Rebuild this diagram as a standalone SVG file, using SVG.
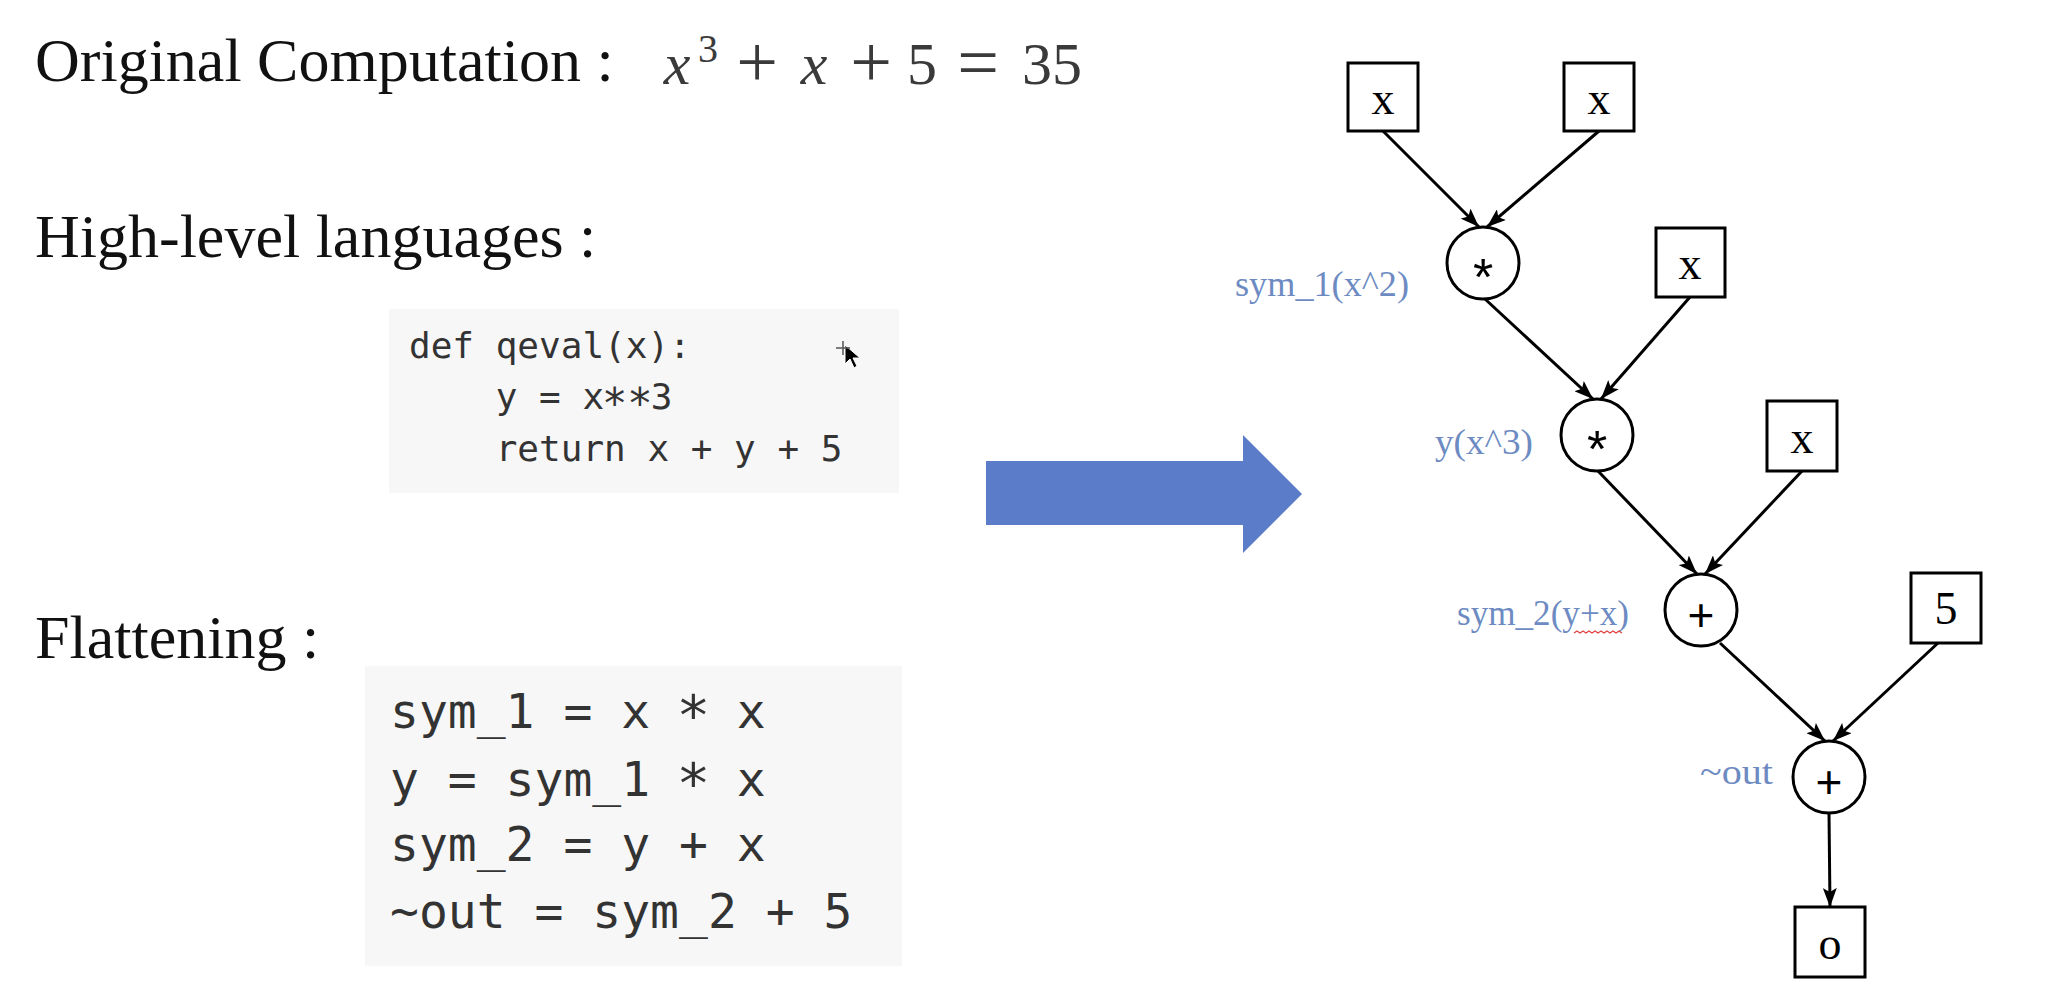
<svg xmlns="http://www.w3.org/2000/svg" width="2056" height="994" viewBox="0 0 2056 994">
<defs>
<style>
.head{font-family:"Liberation Serif",serif;font-size:62px;fill:#111}
.math{font-family:"Liberation Serif",serif;font-size:60px;fill:#3a3a3a;text-anchor:middle}
.big{font-size:74px}
.code{font-family:"DejaVu Sans Mono",monospace;fill:#333}
.codebg{fill:#f7f7f7}
.lbl{font-family:"Liberation Serif",serif;font-size:35px;fill:#6d8bc2}
.node rect,.node circle{fill:#fff;stroke:#000;stroke-width:3}
.nt{font-family:"Liberation Serif",serif;font-size:46px;text-anchor:middle;fill:#000}
.op{font-family:"Liberation Sans",sans-serif;text-anchor:middle;fill:#000}
.edge{stroke:#000;stroke-width:3;fill:none;marker-end:url(#ah)}
</style>
<marker id="ah" markerWidth="19" markerHeight="14" refX="19" refY="7" orient="auto" markerUnits="userSpaceOnUse">
<path d="M0,0 L19,7 L0,14 L4,7 z" fill="#000"/>
</marker>
</defs>
<rect width="2056" height="994" fill="#fff"/>

<g id="headings">
<text class="head" x="35" y="81">Original Computation :</text>
<text class="head" x="35" y="257">High-level languages :</text>
<text class="head" x="35" y="658">Flattening :</text>
</g>

<g id="formula">
<text class="math" y="84"><tspan x="677" font-style="italic">x</tspan><tspan x="708" y="62" font-size="40">3</tspan><tspan x="757" y="87" class="big">+</tspan><tspan x="814" y="84" font-style="italic">x</tspan><tspan x="871" y="87" class="big">+</tspan><tspan x="922" y="84">5</tspan><tspan x="978" y="87" class="big">=</tspan><tspan x="1052" y="84">35</tspan></text>
</g>

<g id="code-high-level">
<rect class="codebg" x="389" y="309" width="510" height="184"/>
<text class="code" font-size="36" x="409" y="358">def qeval(x):</text>
<text class="code" font-size="36" x="409" y="409" xml:space="preserve">    y = x<tspan dy="9" font-size="42" dx="-2">**</tspan><tspan dy="-9" dx="-2">3</tspan></text>
<text class="code" font-size="36" x="409" y="461" xml:space="preserve">    return x + y + 5</text>
<g id="cursor">
<path d="M845,345 L845,364 L850,359 L854,368 L857,366 L853,358 L860,358 Z" fill="#000" stroke="#fff" stroke-width="1"/>
<path d="M836,348 h14 M843,341 v14" stroke="#555" stroke-width="1.5"/>
</g>
</g>

<g id="code-flattening">
<rect class="codebg" x="365" y="666" width="537" height="300"/>
<text class="code" font-size="48" x="390" y="728" xml:space="preserve">sym_1 = x <tspan dy="7" font-size="56" dx="-2.4">*</tspan><tspan dy="-7" dx="-2.4"> x</tspan></text>
<text class="code" font-size="48" x="390" y="796" xml:space="preserve">y = sym_1 <tspan dy="7" font-size="56" dx="-2.4">*</tspan><tspan dy="-7" dx="-2.4"> x</tspan></text>
<text class="code" font-size="48" x="390" y="861">sym_2 = y + x</text>
<text class="code" font-size="48" x="390" y="928">~out = sym_2 + 5</text>
</g>

<g id="big-arrow">
<polygon points="986,461 1243,461 1243,435 1302,494 1243,553 1243,525 986,525" fill="#5a7cc9"/>
</g>

<g id="connectors">
<line class="edge" x1="1383" y1="131" x2="1479" y2="227"/>
<line class="edge" x1="1599" y1="131" x2="1487" y2="227"/>
<line class="edge" x1="1485" y1="299" x2="1593" y2="399"/>
<line class="edge" x1="1690" y1="297" x2="1601" y2="399"/>
<line class="edge" x1="1598" y1="471" x2="1697" y2="574"/>
<line class="edge" x1="1802" y1="471" x2="1705" y2="574"/>
<line class="edge" x1="1720" y1="643" x2="1825" y2="741"/>
<line class="edge" x1="1938" y1="643" x2="1833" y2="741"/>
<line class="edge" x1="1829" y1="813" x2="1830" y2="907"/>
</g>

<g id="n-x1" class="node"><rect x="1348" y="63" width="70" height="68"/><text class="nt" x="1383" y="114">x</text></g>
<g id="n-x2" class="node"><rect x="1564" y="63" width="70" height="68"/><text class="nt" x="1599" y="114">x</text></g>
<g id="n-mul1" class="node"><circle cx="1483" cy="263" r="36"/><text class="op" font-size="52" x="1483" y="295">*</text></g>
<g id="n-x3" class="node"><rect x="1656" y="228" width="69" height="69"/><text class="nt" x="1690" y="279">x</text></g>
<g id="n-mul2" class="node"><circle cx="1597" cy="435" r="36"/><text class="op" font-size="52" x="1597" y="467">*</text></g>
<g id="n-x4" class="node"><rect x="1767" y="401" width="70" height="70"/><text class="nt" x="1802" y="453">x</text></g>
<g id="n-add1" class="node"><circle cx="1701" cy="610" r="36"/><text class="op" font-size="46" x="1701" y="631">+</text></g>
<g id="n-5" class="node"><rect x="1911" y="573" width="70" height="70"/><text class="nt" x="1946" y="624">5</text></g>
<g id="n-add2" class="node"><circle cx="1829" cy="777" r="36"/><text class="op" font-size="46" x="1829" y="798">+</text></g>
<g id="n-o" class="node"><rect x="1795" y="907" width="70" height="70"/><text class="nt" x="1830" y="959">o</text></g>

<g id="labels">
<text class="lbl" x="1235" y="296" textLength="174" lengthAdjust="spacingAndGlyphs">sym_1(x^2)</text>
<text class="lbl" x="1435" y="454" textLength="98" lengthAdjust="spacingAndGlyphs">y(x^3)</text>
<text class="lbl" x="1457" y="625" textLength="172" lengthAdjust="spacingAndGlyphs">sym_2(y+x)</text>
<path d="M1574,633 l3,-2 l3,2 l3,-2 l3,2 l3,-2 l3,2 l3,-2 l3,2 l3,-2 l3,2 l3,-2 l3,2 l3,-2 l3,2 l3,-2 l3,2" fill="none" stroke="#e04040" stroke-width="1.2"/>
<text class="lbl" x="1700" y="784" textLength="73" lengthAdjust="spacingAndGlyphs">~out</text>
</g>
</svg>
